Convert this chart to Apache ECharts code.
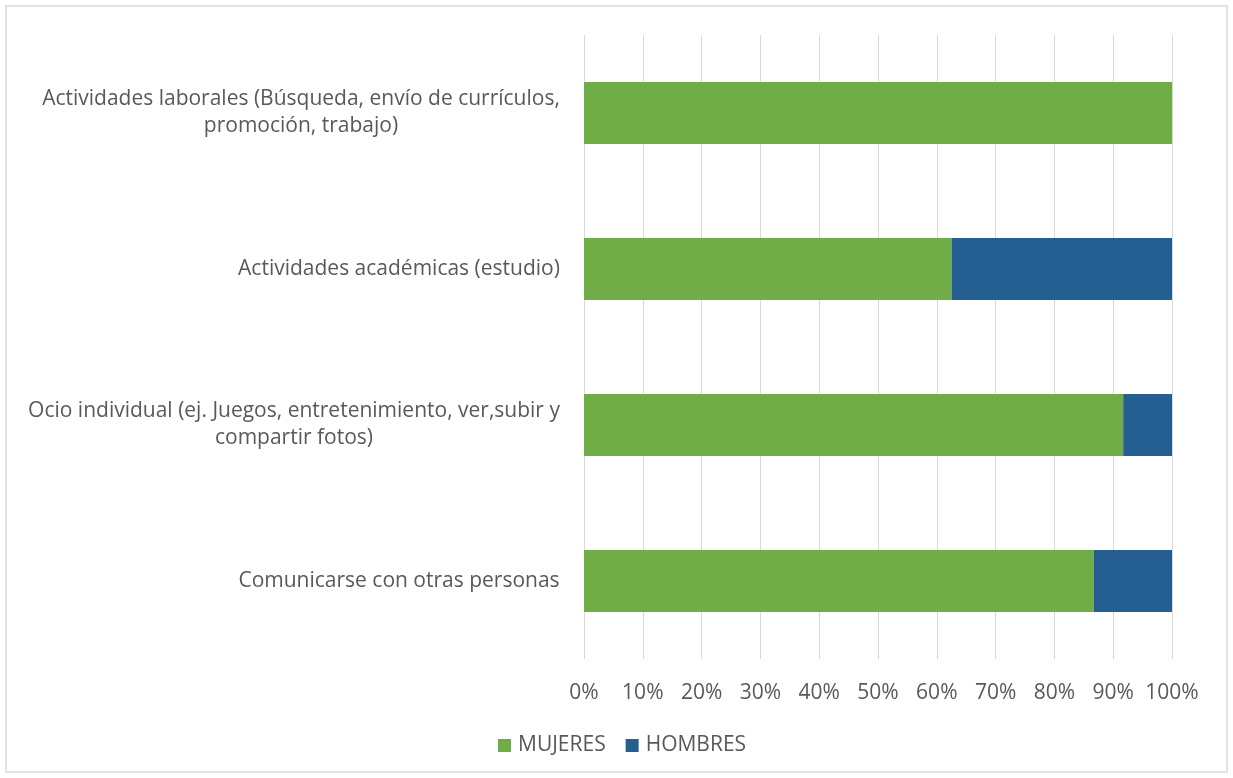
<!DOCTYPE html>
<html>
<head>
<meta charset="utf-8">
<script src="https://cdn.jsdelivr.net/npm/echarts@6/dist/echarts.min.js"></script>
<style>
  html, body { margin: 0; padding: 0; background: #fff; }
  #chart { width: 1233px; height: 778px; }
</style>
</head>
<body>
<div id="chart"></div>
<script>
// categories listed top to bottom, as in the picture
var categories = [
    'Actividades laborales (Búsqueda, envío de currículos,\npromoción, trabajo)',
    'Actividades académicas (estudio)',
    'Ocio individual (ej. Juegos, entretenimiento, ver,subir y\ncompartir fotos)',
    'Comunicarse con otras personas'
];
var mujeres = [100, 62.5, 91.7, 86.7];
var hombres = [0, 37.5, 8.3, 13.3];

var FONT = 'Open Sans';
var SIZE = 21;
var textColor = '#595959';

// measure lines so multi-line labels can be centred inside a right-aligned block
var ctx = document.createElement('canvas').getContext('2d');
ctx.font = SIZE + 'px "' + FONT + '"';
var rich = {};
categories.forEach(function (c, i) {
    var w = 0;
    c.split('\n').forEach(function (l) { w = Math.max(w, ctx.measureText(l).width); });
    rich['c' + i] = { width: Math.ceil(w) + 2, align: 'center', fontSize: SIZE, fontFamily: FONT, color: textColor, lineHeight: 27 };
});

var myChart = echarts.init(document.getElementById('chart'));
var option = {
    animation: false,
    textStyle: { fontFamily: FONT, color: textColor },
    graphic: [{
        type: 'rect',
        shape: { x: 6, y: 6, width: 1221, height: 766 },
        style: { fill: 'none', stroke: '#d9d9d9', lineWidth: 1.5 },
        silent: true
    }],
    grid: { left: 584, right: 61, top: 35, bottom: 119, containLabel: false },
    legend: {
        bottom: 17,
        left: 493,
        itemWidth: 13,
        itemHeight: 13,
        itemGap: 20,
        icon: 'rect',
        textStyle: { fontSize: 21, color: textColor, fontFamily: FONT, padding: [0, 0, 0, 2] },
        data: ['MUJERES', 'HOMBRES']
    },
    xAxis: {
        type: 'value',
        min: 0,
        max: 100,
        interval: 10,
        axisLine: { show: false },
        axisTick: { show: false },
        splitLine: { lineStyle: { color: '#d9d9d9', width: 1 } },
        axisLabel: {
            margin: 24,
            fontSize: SIZE,
            color: textColor,
            formatter: function (v) { return v + '%'; }
        }
    },
    yAxis: {
        type: 'category',
        inverse: true,
        data: categories,
        axisLine: { show: false },
        axisTick: { show: false },
        axisLabel: {
            margin: 23,
            fontSize: SIZE,
            color: textColor,
            formatter: function (v, i) {
                return v.split('\n').map(function (l) { return '{c' + i + '|' + l + '}'; }).join('\n');
            },
            rich: rich
        }
    },
    series: [{
        name: 'MUJERES',
        type: 'bar',
        stack: 'total',
        barWidth: 62,
        itemStyle: { color: '#70ad47' },
        data: mujeres
    }, {
        name: 'HOMBRES',
        type: 'bar',
        stack: 'total',
        barWidth: 62,
        itemStyle: { color: '#255e91' },
        data: hombres
    }]
};
myChart.setOption(option);
</script>
</body>
</html>
